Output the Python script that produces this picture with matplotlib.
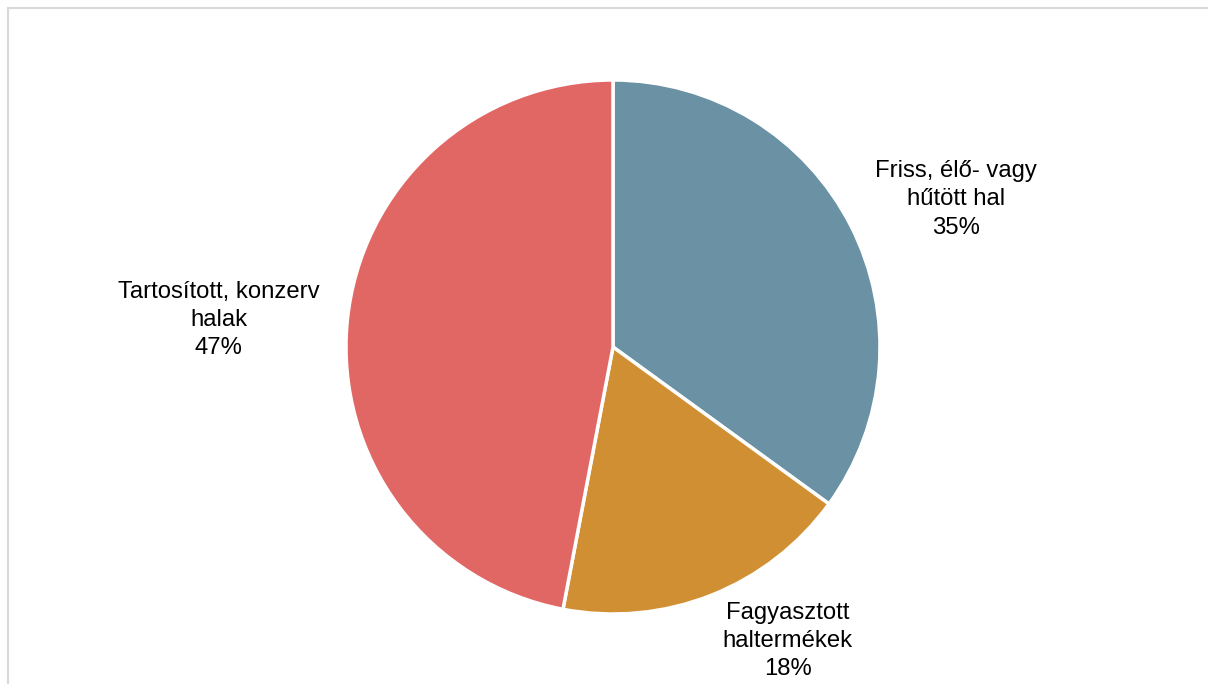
import matplotlib.pyplot as plt
from matplotlib.patches import Rectangle

plt.rcParams['font.family'] = ['Liberation Sans', 'DejaVu Sans']

categories = ['Friss, élő- vagy\nhűtött hal', 'Fagyasztott\nhaltermékek', 'Tartosított, konzerv\nhalak']
values = [35, 18, 47]
colors = ['#6A91A4', '#D18F33', '#E16764']

# label anchor spots, in pie radius units
label_pos = [(1.284, 0.554), (0.655, -1.101), (-1.476, 0.101)]

fig = plt.figure(figsize=(12.08, 6.84), dpi=100)
ax = fig.add_axes([346 / 1208, 70 / 684, 534 / 1208, 534 / 684])

ax.pie(values, colors=colors, startangle=90, counterclock=False,
       radius=1, wedgeprops=dict(edgecolor='white', linewidth=2.5))
ax.set_xlim(-1, 1)
ax.set_ylim(-1, 1)
ax.set_aspect('equal')
ax.axis('off')

for name, v, (x, y) in zip(categories, values, label_pos):
    ax.text(x, y, f'{name}\n{v}%', ha='center', va='center', fontsize=17.2,
            linespacing=1.38, color='black', clip_on=False)

# thin chart frame, cut off at right and bottom
fig.patches.append(Rectangle((8 / 1208, -0.1), 1.2, (684 - 8) / 684 + 0.1,
                             transform=fig.transFigure, fill=False,
                             edgecolor='#D9D9D9', linewidth=1.5))

fig.savefig('out.png', dpi=100)
